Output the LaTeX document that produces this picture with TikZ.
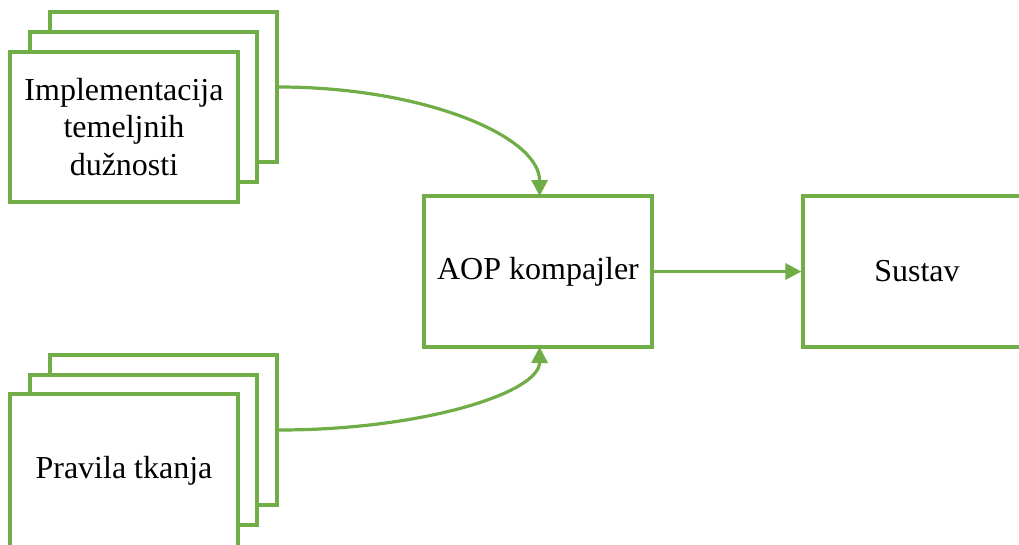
\documentclass[tikz,border=0pt]{standalone}
\usepackage{fontspec}
\setmainfont{Liberation Serif}
\usetikzlibrary{arrows.meta}
\definecolor{ogreen}{HTML}{70AD47}
\begin{document}
\begin{tikzpicture}[x=1pt,y=1pt,
  box/.style={draw=ogreen, line width=3.2pt, fill=white, minimum width=228pt, minimum height=150pt, inner sep=0pt, align=center, font=\fontsize{32}{37.5}\selectfont},
  conn/.style={draw=ogreen, line width=3.2pt, -{Triangle[length=16pt,width=16pt]}}]
\useasboundingbox (0,0) rectangle (1019,-544);
% top stack
\node[box, minimum width=227pt] (tback) at (163.5,-87) {};
\node[box, minimum width=227pt] (tmid) at (143.5,-107) {};
\node[box] (tfront) at (124,-127) {Implementacija\\temeljnih\\dužnosti};
% bottom stack
\node[box, minimum width=227pt] (bback) at (163.5,-430) {};
\node[box, minimum width=227pt] (bmid) at (143.5,-450) {};
\node[box, minimum height=153pt] (bfront) at (124,-470.5) {\raisebox{2pt}{Pravila tkanja}};
% middle
\node[box, minimum height=151pt] (aop) at (538,-271.5) {AOP kompajler};
\node[box, minimum height=151pt] (sys) at (917,-271.5) {Sustav};
% connectors
\draw[conn] (tback.east) arc[start angle=90, end angle=0, x radius=261pt, y radius=109pt];
\draw[conn] (bback.east) arc[start angle=270, end angle=360, x radius=261pt, y radius=83pt];
\draw[conn] (aop.east) -- (sys.west);
\end{tikzpicture}
\end{document}
